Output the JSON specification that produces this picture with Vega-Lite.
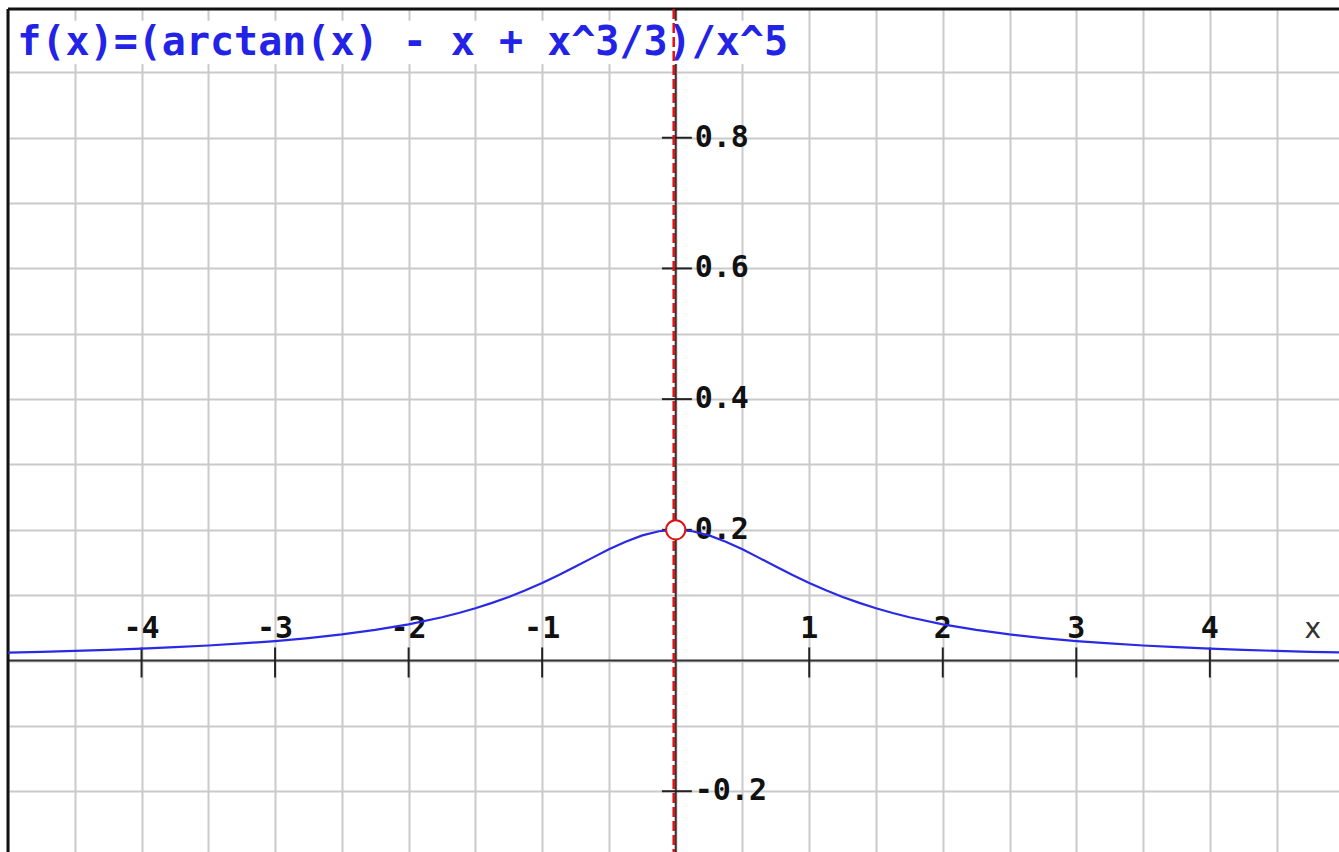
{
  "$schema": "https://vega.github.io/schema/vega-lite/v6.json",
  "width": 1331,
  "height": 843,
  "autosize": {"type": "none"},
  "padding": {"left": 8, "top": 9, "right": 0, "bottom": 0},
  "background": "white",
  "config": {
    "view": {"stroke": null},
    "axis": {
      "domain": false,
      "ticks": false,
      "labels": false,
      "title": null,
      "grid": true,
      "gridColor": "#cacaca",
      "gridWidth": 2,
      "gridOpacity": 1
    }
  },
  "data": {"values": [{}]},
  "datasets": {
    "curve": [
      {"x": -5, "y": 0.01217}, {"x": -4.75, "y": 0.01337}, {"x": -4.5, "y": 0.01476},
      {"x": -4.25, "y": 0.01636}, {"x": -4, "y": 0.01822}, {"x": -3.75, "y": 0.02041},
      {"x": -3.5, "y": 0.02301}, {"x": -3.25, "y": 0.0261}, {"x": -3, "y": 0.02983},
      {"x": -2.75, "y": 0.03436}, {"x": -2.5, "y": 0.03992}, {"x": -2.25, "y": 0.04681},
      {"x": -2, "y": 0.05543}, {"x": -1.75, "y": 0.0663}, {"x": -1.625, "y": 0.07276},
      {"x": -1.5, "y": 0.08004}, {"x": -1.375, "y": 0.08821}, {"x": -1.25, "y": 0.09735},
      {"x": -1.125, "y": 0.10753}, {"x": -1, "y": 0.11873}, {"x": -0.875, "y": 0.1309},
      {"x": -0.75, "y": 0.14381}, {"x": -0.625, "y": 0.15707}, {"x": -0.5, "y": 0.17011},
      {"x": -0.375, "y": 0.18189}, {"x": -0.25, "y": 0.19149}, {"x": -0.125, "y": 0.1978},
      {"x": 0, "y": 0.2},
      {"x": 0.125, "y": 0.1978}, {"x": 0.25, "y": 0.19149}, {"x": 0.375, "y": 0.18189},
      {"x": 0.5, "y": 0.17011}, {"x": 0.625, "y": 0.15707}, {"x": 0.75, "y": 0.14381},
      {"x": 0.875, "y": 0.1309}, {"x": 1, "y": 0.11873}, {"x": 1.125, "y": 0.10753},
      {"x": 1.25, "y": 0.09735}, {"x": 1.375, "y": 0.08821}, {"x": 1.5, "y": 0.08004},
      {"x": 1.625, "y": 0.07276}, {"x": 1.75, "y": 0.0663}, {"x": 2, "y": 0.05543},
      {"x": 2.25, "y": 0.04681}, {"x": 2.5, "y": 0.03992}, {"x": 2.75, "y": 0.03436},
      {"x": 3, "y": 0.02983}, {"x": 3.25, "y": 0.0261}, {"x": 3.5, "y": 0.02301},
      {"x": 3.75, "y": 0.02041}, {"x": 4, "y": 0.01822}, {"x": 4.25, "y": 0.01636},
      {"x": 4.5, "y": 0.01476}, {"x": 4.75, "y": 0.01337}, {"x": 5, "y": 0.01217}
    ],
    "xticks": [
      {"v": -4, "label": "-4"}, {"v": -3, "label": "-3"}, {"v": -2, "label": "-2"},
      {"v": -1, "label": "-1"}, {"v": 1, "label": "1"}, {"v": 2, "label": "2"},
      {"v": 3, "label": "3"}, {"v": 4, "label": "4"}
    ],
    "yticks": [
      {"v": 0.8, "label": "0.8"}, {"v": 0.6, "label": "0.6"}, {"v": 0.4, "label": "0.4"},
      {"v": 0.2, "label": "0.2"}, {"v": -0.2, "label": "-0.2"}
    ]
  },
  "layer": [
    {
      "mark": {"type": "rule", "color": "#333333", "strokeWidth": 2},
      "encoding": {
        "y": {"datum": 0, "type": "quantitative", "scale": {"domain": [-0.293, 0.997], "nice": false, "zero": false}}
      }
    },
    {
      "mark": {"type": "rule", "color": "#333333", "strokeWidth": 2},
      "encoding": {
        "x": {"datum": 0, "type": "quantitative", "scale": {"domain": [-5, 4.967], "nice": false, "zero": false}}
      }
    },
    {
      "mark": {"type": "rule", "color": "#111111", "strokeWidth": 3},
      "encoding": {
        "x": {"datum": -5, "type": "quantitative", "scale": {"domain": [-5, 4.967], "nice": false, "zero": false}}
      }
    },
    {
      "mark": {"type": "rule", "color": "#111111", "strokeWidth": 3},
      "encoding": {
        "y": {"datum": 0.997, "type": "quantitative", "scale": {"domain": [-0.293, 0.997], "nice": false, "zero": false}}
      }
    },
    {
      "mark": {"type": "rect", "color": "white"},
      "encoding": {
        "x": {"datum": -4.96, "type": "quantitative", "scale": {"domain": [-5, 4.967], "nice": false, "zero": false}},
        "x2": {"datum": 0.9},
        "y": {"datum": 0.979, "type": "quantitative", "scale": {"domain": [-0.293, 0.997], "nice": false, "zero": false}},
        "y2": {"datum": 0.913}
      }
    },
    {
      "mark": {
        "type": "text",
        "text": "f(x)=(arctan(x) - x + x^3/3)/x^5",
        "font": "DejaVu Sans Mono",
        "fontWeight": "bold",
        "fontSize": 40,
        "color": "#2323e8",
        "align": "left",
        "baseline": "alphabetic"
      },
      "encoding": {
        "x": {"datum": -4.93, "type": "quantitative", "scale": {"domain": [-5, 4.967], "nice": false, "zero": false}},
        "y": {"datum": 0.926, "type": "quantitative", "scale": {"domain": [-0.293, 0.997], "nice": false, "zero": false}}
      }
    },
    {
      "data": {"name": "xticks"},
      "mark": {"type": "rule", "color": "#222222", "strokeWidth": 2},
      "encoding": {
        "x": {"field": "v", "type": "quantitative", "scale": {"domain": [-5, 4.967], "nice": false, "zero": false}},
        "y": {"datum": 0.02, "type": "quantitative", "scale": {"domain": [-0.293, 0.997], "nice": false, "zero": false}},
        "y2": {"datum": -0.026}
      }
    },
    {
      "data": {"name": "yticks"},
      "mark": {"type": "rule", "color": "#222222", "strokeWidth": 2},
      "encoding": {
        "y": {"field": "v", "type": "quantitative", "scale": {"domain": [-0.293, 0.997], "nice": false, "zero": false}},
        "x": {"datum": -0.103, "type": "quantitative", "scale": {"domain": [-5, 4.967], "nice": false, "zero": false}},
        "x2": {"datum": 0.121}
      }
    },
    {
      "data": {"name": "xticks"},
      "mark": {
        "type": "text",
        "font": "DejaVu Sans Mono",
        "fontWeight": "bold",
        "fontSize": 30,
        "color": "#111111",
        "align": "center",
        "baseline": "alphabetic",
        "dy": -23
      },
      "encoding": {
        "x": {"field": "v", "type": "quantitative", "scale": {"domain": [-5, 4.967], "nice": false, "zero": false}},
        "y": {"datum": 0, "type": "quantitative", "scale": {"domain": [-0.293, 0.997], "nice": false, "zero": false}},
        "text": {"field": "label"}
      }
    },
    {
      "data": {"name": "yticks"},
      "mark": {
        "type": "text",
        "font": "DejaVu Sans Mono",
        "fontWeight": "bold",
        "fontSize": 30,
        "color": "#111111",
        "align": "left",
        "baseline": "middle",
        "dx": 19
      },
      "encoding": {
        "y": {"field": "v", "type": "quantitative", "scale": {"domain": [-0.293, 0.997], "nice": false, "zero": false}},
        "x": {"datum": 0, "type": "quantitative", "scale": {"domain": [-5, 4.967], "nice": false, "zero": false}},
        "text": {"field": "label"}
      }
    },
    {
      "mark": {
        "type": "text",
        "text": "x",
        "font": "DejaVu Sans",
        "fontSize": 28,
        "color": "#333333",
        "align": "center",
        "baseline": "alphabetic",
        "dy": -23
      },
      "encoding": {
        "x": {"datum": 4.77, "type": "quantitative", "scale": {"domain": [-5, 4.967], "nice": false, "zero": false}},
        "y": {"datum": 0, "type": "quantitative", "scale": {"domain": [-0.293, 0.997], "nice": false, "zero": false}}
      }
    },
    {
      "data": {"name": "curve"},
      "mark": {"type": "line", "color": "#2a2ae6", "strokeWidth": 2.2, "clip": true},
      "encoding": {
        "x": {
          "field": "x",
          "type": "quantitative",
          "scale": {"domain": [-5, 4.967], "nice": false, "zero": false},
          "axis": {"values": [-5, -4.5, -4, -3.5, -3, -2.5, -2, -1.5, -1, -0.5, 0, 0.5, 1, 1.5, 2, 2.5, 3, 3.5, 4, 4.5]}
        },
        "y": {
          "field": "y",
          "type": "quantitative",
          "scale": {"domain": [-0.293, 0.997], "nice": false, "zero": false},
          "axis": {"values": [-0.2, -0.1, 0, 0.1, 0.2, 0.3, 0.4, 0.5, 0.6, 0.7, 0.8, 0.9]}
        }
      }
    },
    {
      "mark": {"type": "rule", "color": "#e01010", "strokeWidth": 2.5, "strokeDash": [10, 4], "xOffset": -2},
      "encoding": {
        "x": {"datum": 0, "type": "quantitative", "scale": {"domain": [-5, 4.967], "nice": false, "zero": false}}
      }
    },
    {
      "mark": {"type": "point", "shape": "circle", "filled": false, "fill": "white", "fillOpacity": 1, "stroke": "#e01010", "strokeWidth": 2, "size": 370, "opacity": 1},
      "encoding": {
        "x": {"datum": 0, "type": "quantitative", "scale": {"domain": [-5, 4.967], "nice": false, "zero": false}},
        "y": {"datum": 0.2, "type": "quantitative", "scale": {"domain": [-0.293, 0.997], "nice": false, "zero": false}}
      }
    }
  ]
}
